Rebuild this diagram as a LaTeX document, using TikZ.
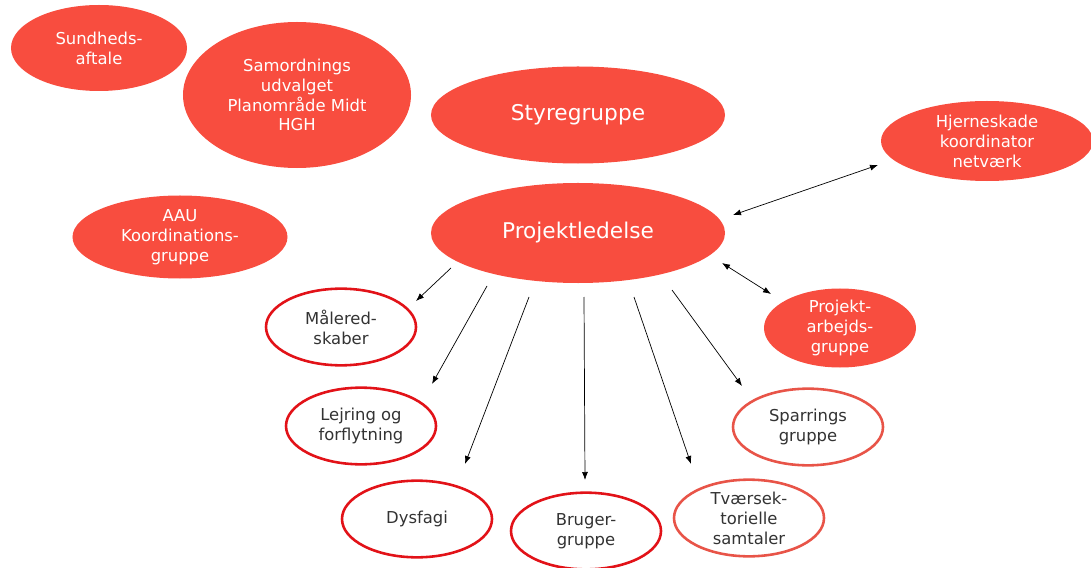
\documentclass[tikz,border=0pt]{standalone}
\usepackage{fontspec}
\setmainfont{DejaVu Sans}
\usetikzlibrary{arrows.meta, shapes.geometric}

\definecolor{orgfill}{RGB}{248,77,63}
\definecolor{orgline}{RGB}{226,18,24}
\definecolor{orgsoft}{RGB}{232,84,72}
\definecolor{orgtext}{RGB}{51,51,51}

\begin{document}
\begin{tikzpicture}[
    x=0.03cm, y=-0.03cm,
    font=\fontsize{14pt}{17pt}\selectfont,
    org/.style={
        ellipse, inner sep=0pt, align=center
    },
    solid/.style={org, fill=orgfill, text=white},
    ring/.style={org, draw=orgline, line width=2.2pt, fill=white, text=orgtext,
        minimum width=4.5cm, minimum height=2.3cm},
    softring/.style={ring, draw=orgsoft},
    big/.style={font=\fontsize{18.5pt}{22pt}\selectfont},
    arrow/.style={-{Latex[length=2.4mm, width=1.8mm]}, line width=0.6pt},
    twoway/.style={{Latex[length=2.4mm, width=1.8mm]}-{Latex[length=2.4mm, width=1.8mm]}, line width=0.6pt}
]
\useasboundingbox (0,0) rectangle (1091,568);

% -- top row: filled groups --
\node[solid, minimum width=5.28cm, minimum height=2.58cm] (sund) at (99,48)
    {Sundheds-\\aftale};
\node[solid, minimum width=6.84cm, minimum height=4.38cm] (samord) at (297,95)
    {Samordnings\\udvalget\\Planområde Midt\\HGH};
\node[solid, big, minimum width=8.82cm, minimum height=2.91cm] (styre) at (578,115)
    {Styregruppe};
\node[solid, minimum width=6.36cm, minimum height=2.4cm] (hjerne) at (987,141)
    {Hjerneskade\\koordinator\\netværk};
\node[solid, minimum width=6.45cm, minimum height=2.49cm] (aau) at (180,237)
    {AAU\\Koordinations-\\gruppe};

% -- centre: project management --
\node[solid, big, minimum width=8.82cm, minimum height=3.0cm] (ledelse) at (578,233)
    {Projektledelse};
\node[solid, minimum width=4.56cm, minimum height=2.37cm] (arbejd) at (840,328)
    {Projekt-\\arbejds-\\gruppe};

% -- working groups --
\node[ring] (maal) at (341,327) {Målered-\\skaber};
\node[ring] (lejr) at (361,426) {Lejring og\\forflytning};
\node[ring] (dysf) at (417,519) {Dysfagi};
\node[ring] (bruger) at (586,531) {Bruger-\\gruppe};
\node[softring] (spar) at (808,427) {Sparrings\\gruppe};
\node[softring] (tvaer) at (749,518) {Tværsek-\\torielle\\samtaler};

% -- arrow ends --
\coordinate (m0) at (451,268); \coordinate (m1) at (416,301);
\coordinate (l0) at (487,286); \coordinate (l1) at (432,384);
\coordinate (d0) at (529,297); \coordinate (d1) at (465,464);
\coordinate (b0) at (584,297); \coordinate (b1) at (585,480);
\coordinate (t0) at (634,297); \coordinate (t1) at (691,464);
\coordinate (s0) at (672,290); \coordinate (s1) at (742,386);
\coordinate (h0) at (733,215); \coordinate (h1) at (878,165);
\coordinate (a0) at (722,263); \coordinate (a1) at (771,294);

% -- arrows out of Projektledelse --
\draw[arrow] (m0) -- (m1);
\draw[arrow] (l0) -- (l1);
\draw[arrow] (d0) -- (d1);
\draw[arrow] (b0) -- (b1);
\draw[arrow] (t0) -- (t1);
\draw[arrow] (s0) -- (s1);

% -- two-way links --
\draw[twoway] (h0) -- (h1);
\draw[twoway] (a0) -- (a1);

\end{tikzpicture}
\end{document}
